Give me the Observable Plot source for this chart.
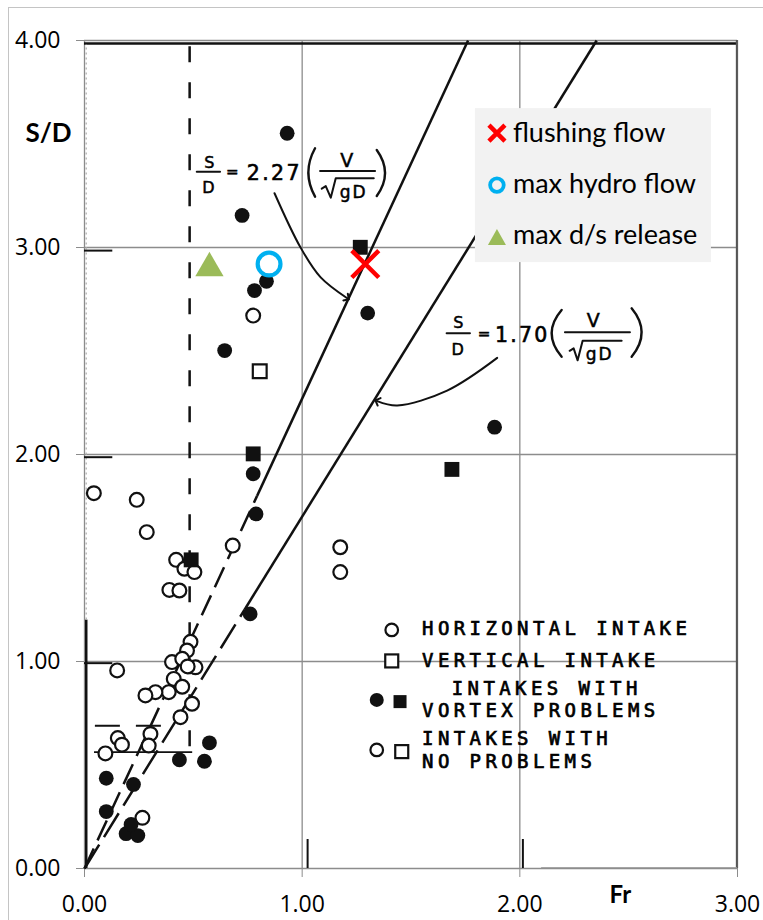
<!DOCTYPE html>
<html><head><meta charset="utf-8">
<script src="https://cdn.jsdelivr.net/npm/d3@7"></script>
<script src="https://cdn.jsdelivr.net/npm/@observablehq/plot@0.6"></script>
<style>
body{margin:0;background:#fff;}
#wrap{position:relative;width:763px;height:920px;overflow:hidden;}
#frame{position:absolute;left:8px;top:7px;width:770px;height:930px;border-left:1px solid #c4c4c4;border-top:1px solid #c4c4c4;}
#chart{position:absolute;left:0;top:0;}
</style></head><body><div id="wrap"><div id="frame"></div><div id="chart"></div></div>
<script>
// ---- axes ----
const xTicks = [0, 1, 2, 3];
const yTicks = [0, 1, 2, 3, 4];

// ---- scanned data points [Fr, S/D] ----
const horizontalNoProblems = [
  [0.043,1.813],[0.240,1.781],[0.286,1.625],[0.681,1.560],[0.421,1.491],[0.459,1.448],
  [0.505,1.432],[0.390,1.346],[0.436,1.343],[1.175,1.552],[1.175,1.432],[0.775,2.671],
  [0.487,1.095],[0.471,1.053],[0.402,0.997],[0.449,1.013],[0.510,0.972],[0.474,0.976],
  [0.150,0.957],[0.410,0.916],[0.449,0.878],[0.387,0.852],[0.326,0.852],[0.280,0.836],
  [0.494,0.796],[0.441,0.731],[0.303,0.650],[0.295,0.594],[0.153,0.630],[0.172,0.598],
  [0.096,0.556],[0.266,0.245]
];
const horizontalVortex = [
  [0.931,3.552],[0.724,3.155],[0.781,2.792],[0.836,2.837],[1.301,2.683],[0.644,2.502],
  [0.775,1.907],[1.884,2.132],[0.788,1.713],[0.761,1.230],[0.574,0.607],[0.551,0.518],
  [0.436,0.525],[0.100,0.436],[0.225,0.406],[0.100,0.275],[0.191,0.168],[0.245,0.159],
  [0.214,0.213]
];
const verticalVortex = [[1.267,3.001],[0.775,2.003],[1.688,1.928],[0.490,1.491]];
const verticalNoProblems = [[0.805,2.402]];

// ---- highlighted flows ----
const flushingFlow = [[1.29,2.92]];
const maxHydroFlow = [[0.848,2.92]];
const maxRelease = [[0.574,2.90]];

// ---- criteria lines S/D = k * Fr ----
const criteria = [
  {k: 2.27, dashedBelow: 1.80, dash: "22,9"},
  {k: 1.70, dashedBelow: 1.25, dash: "28,9"}
];
const yTop = 4;

// ---- annotation arrow paths [Fr, S/D] ----
const arrow227 = [[0.873,3.262],[0.992,3.001],[1.084,2.857],[1.207,2.755]];
const arrow170 = [[1.896,2.467],[1.666,2.309],[1.437,2.237],[1.345,2.258]];

// ---- annotation anchors [Fr, S/D] ----
const formula227Anchor = [0.518, 3.364];
const formula170Anchor = [1.666, 2.583];
const scanLegendAnchor = [1.553, 1.126];
const colorLegendAnchor = [1.796, 3.671];

const legendItems = ["flushing flow", "max hydro flow", "max d/s release"];
const scanLegendText = ["HORIZONTAL INTAKE", "VERTICAL INTAKE", "INTAKES WITH", "VORTEX PROBLEMS", "INTAKES WITH", "NO PROBLEMS"];

const segs = criteria.map(c => ({
  dashed: {x1: 0, y1: 0, x2: c.dashedBelow / c.k, y2: c.dashedBelow},
  solid: {x1: c.dashedBelow / c.k, y1: c.dashedBelow, x2: yTop / c.k, y2: yTop},
  dash: c.dash
}));

const px = d => d[0], py = d => d[1];
const ink = "#111";
const tickFont = "'Open Sans', sans-serif";

const plot = Plot.plot({
  width: 763, height: 920,
  marginLeft: 84, marginRight: 26, marginTop: 40, marginBottom: 52,
  x: {domain: [0, 3]},
  y: {domain: [0, 4]},
  style: {fontFamily: tickFont, background: "transparent", overflow: "visible"},
  marks: [
    Plot.gridX(xTicks, {stroke: "#8c8c8c", strokeOpacity: 1, strokeWidth: 1.3}),
    Plot.gridY(yTicks, {stroke: "#8c8c8c", strokeOpacity: 1, strokeWidth: 1.3}),
    Plot.axisX({ticks: xTicks, tickFormat: () => "", tickSize: 9, stroke: "#8c8c8c", label: null}),
    Plot.axisY({ticks: yTicks, tickFormat: () => "", tickSize: 8, stroke: "#8c8c8c", label: null}),
    Plot.text(xTicks, {x: d => d, y: 0, dy: 36, text: d => d.toFixed(2), textAnchor: "middle", lineAnchor: "middle", fontSize: 23, fontFamily: tickFont, fill: "#000"}),
    Plot.text(yTicks, {x: 0, y: d => d, dx: -24, text: d => d.toFixed(2), textAnchor: "end", lineAnchor: "middle", fontSize: 23, fontFamily: tickFont, fill: "#000"}),
    // scanned frame remnants
    Plot.ruleY([3.985], {x1: 0, x2: 3, stroke: ink, strokeWidth: 2.5}),
    Plot.ruleX([2.997], {y1: 0, y2: 4, stroke: "#555", strokeWidth: 2}),
    Plot.ruleX([0.008], {y1: 0, y2: 1.2, stroke: ink, strokeWidth: 2.5}),
    Plot.ruleX([0.008], {y1: 1.2, y2: 3.98, stroke: "#bbb", strokeWidth: 1.5, strokeDasharray: "2,3"}),
    Plot.ruleY([2.985, 1.987, 0.992], {x1: 0, x2: 0.13, stroke: ink, strokeWidth: 2}),
    Plot.ruleX([1.025, 2.014], {y1: 0, y2: 0.14, stroke: ink, strokeWidth: 2}),
    Plot.ruleY([0.004], {x1: 2.1, x2: 3, stroke: "#999", strokeWidth: 1}),
    Plot.ruleX([0.483], {y1: 3.97, y2: 0.56, stroke: ink, strokeWidth: 2.5, strokeDasharray: "16,20"}),
    Plot.ruleY([0.69], {x1: 0.05, x2: 0.42, stroke: ink, strokeWidth: 2, strokeDasharray: "25,16"}),
    Plot.ruleY([0.562], {x1: 0.046, x2: 0.497, stroke: ink, strokeWidth: 1.6}),
    // criteria lines
    ...segs.flatMap(s => [
      Plot.link([s.dashed], {x1: "x1", y1: "y1", x2: "x2", y2: "y2", stroke: ink, strokeWidth: 2.5, strokeDasharray: s.dash}),
      Plot.link([s.solid], {x1: "x1", y1: "y1", x2: "x2", y2: "y2", stroke: ink, strokeWidth: 2.5})
    ]),
    // annotation arrows
    Plot.line(arrow227, {x: px, y: py, curve: "catmull-rom", stroke: ink, strokeWidth: 2, markerEnd: "arrow"}),
    Plot.line(arrow170, {x: px, y: py, curve: "catmull-rom", stroke: ink, strokeWidth: 2, markerEnd: "arrow"}),
    // data points
    Plot.dot(horizontalNoProblems, {x: px, y: py, r: 6.9, stroke: ink, strokeWidth: 2.2, fill: "white"}),
    Plot.dot(verticalNoProblems, {x: px, y: py, symbol: "square", r: 7.8, stroke: ink, strokeWidth: 2.2, fill: "white"}),
    Plot.dot(horizontalVortex, {x: px, y: py, r: 7.4, fill: ink}),
    Plot.dot(verticalVortex, {x: px, y: py, symbol: "square", r: 8.4, fill: ink}),
    // axis titles
    Plot.text(["S/D"], {x: 0, y: 3.51, dx: -36, text: d => d, textAnchor: "middle", lineAnchor: "bottom", fontSize: 26, fontWeight: "bold", fontFamily: "Lato, sans-serif", fill: "#000"}),
    Plot.text(["Fr"], {x: 2.462, y: 0, dy: 34, text: d => d, textAnchor: "middle", lineAnchor: "bottom", fontSize: 24, fontWeight: "bold", fontFamily: "Lato, sans-serif", fill: "#000"}),
    // highlighted flows
    Plot.dot(maxRelease, {x: px, y: py, symbol: "triangle", r: 10.5, fill: "#9bbb59"}),
    Plot.dot(maxHydroFlow, {x: px, y: py, r: 11.4, stroke: "#00b0f0", strokeWidth: 4.2, fill: "none"}),
    Plot.dot(flushingFlow, {x: px, y: py, symbol: "times", r: 12.3, stroke: "#ff0000", strokeWidth: 4.5})
  ]
});
document.getElementById("chart").append(plot);

const sx = plot.scale("x"), sy = plot.scale("y");
const svg = d3.select(plot);
function anchored(a) {
  return svg.append("g").attr("transform", `translate(${sx.apply(a[0])},${sy.apply(a[1])})`);
}
function txt(g, s, x, y, size, opts = {}) {
  const t = g.append("text").attr("x", x).attr("y", y).attr("font-size", size)
    .attr("font-family", opts.family || "DejaVu Sans").attr("text-anchor", opts.anchor || "start")
    .attr("fill", opts.fill || "#000").text(s);
  if (opts.ls) t.style("letter-spacing", opts.ls + "px");
  if (opts.sw) t.attr("stroke", "#000").attr("stroke-width", opts.sw);
  if (opts.weight) t.attr("font-weight", opts.weight);
  return t;
}
function path(g, d, w = 2) {
  return g.append("path").attr("d", d).attr("fill", "none").attr("stroke", ink).attr("stroke-width", w).attr("stroke-linecap", "round").attr("stroke-linejoin", "round");
}

// formula S/D = 2.27 (V / sqrt(gD))
{
  const g = anchored(formula227Anchor);
  txt(g, "S", 12.6, -3.4, 16, {anchor: "middle", sw: 0.5});
  path(g, "M0,0H23.3", 2);
  txt(g, "D", 11.6, 21.6, 16, {anchor: "middle", sw: 0.5});
  txt(g, "=", 35.6, 5.5, 15, {anchor: "middle", sw: 0.6});
  txt(g, "2.27", 50, 8.3, 20.5, {ls: 2.4, sw: 0.6});
  path(g, "M118.3,-23.4Q104.9,0.8 118.3,25", 2.4);
  txt(g, "V", 150, -5, 19, {anchor: "middle", sw: 0.5});
  path(g, "M123.3,-0.7H178.3", 2);
  path(g, "M125,17L129,14.5L134,26L139,6.6H177", 2);
  txt(g, "gD", 143, 26.6, 17, {ls: 2, sw: 0.5});
  path(g, "M180,-21.7Q196.6,1.3 180,24.3", 2.4);
}
// formula S/D = 1.70 (V / sqrt(gD))
{
  const g = anchored(formula170Anchor);
  txt(g, "S", 11.6, -5, 16, {anchor: "middle", sw: 0.5});
  path(g, "M0,0H23.3", 2);
  txt(g, "D", 11, 21.7, 16, {anchor: "middle", sw: 0.5});
  txt(g, "=", 37.3, 5.5, 15, {anchor: "middle", sw: 0.6});
  txt(g, "1.70", 48.3, 8.4, 20.5, {ls: 2.2, sw: 0.6});
  path(g, "M115,-23.3Q95,0 115,23.4", 2.4);
  txt(g, "V", 146.6, -6.6, 19, {anchor: "middle", sw: 0.5});
  path(g, "M118.3,-1H183.3", 2);
  path(g, "M123,17.5L127,15L131,27L136,7.4H175", 2);
  txt(g, "gD", 139, 26.7, 17, {ls: 2, sw: 0.5});
  path(g, "M185,-25Q205,-0.8 185,23.4", 2.4);
}
// scanned legend
{
  const g = anchored(scanLegendAnchor);
  const mono = {family: "DejaVu Sans Mono", ls: 4.4, sw: 0.7};
  const circ = (x, y, filled) => g.append("circle").attr("cx", x).attr("cy", y).attr("r", filled ? 7 : 6.3)
    .attr("fill", filled ? ink : "white").attr("stroke", filled ? "none" : ink).attr("stroke-width", 2.2);
  const sq = (x, y, filled) => g.append("rect").attr("x", x - 6.5).attr("y", y - 6.5).attr("width", 13).attr("height", 13)
    .attr("fill", filled ? ink : "white").attr("stroke", filled ? "none" : ink).attr("stroke-width", 2.2);
  circ(-30.3, -5, false);
  txt(g, scanLegendText[0], 0, 0, 19, mono);
  sq(-30.3, 26, false);
  txt(g, scanLegendText[1], 0, 32, 19, mono);
  circ(-45.3, 65, true); sq(-22, 66.7, true);
  txt(g, scanLegendText[2], 29.7, 60, 19, mono);
  txt(g, scanLegendText[3], 0, 81.7, 19, mono);
  circ(-45.3, 115, false); sq(-20.3, 116.7, false);
  txt(g, scanLegendText[4], 0, 110, 19, mono);
  txt(g, scanLegendText[5], 0, 133, 19, mono);
}
// colour legend box
{
  const g = anchored(colorLegendAnchor);
  g.append("rect").attr("width", 236).attr("height", 154).attr("fill", "#f2f2f2");
  path(g, "M14,17L30,33M30,17L14,33", 4.5).attr("stroke", "#ff0000").attr("stroke-linecap", "butt");
  g.append("circle").attr("cx", 22).attr("cy", 77).attr("r", 6.8).attr("fill", "none").attr("stroke", "#00b0f0").attr("stroke-width", 3.8);
  g.append("path").attr("d", "M22,121L31,137L13,137Z").attr("fill", "#9bbb59");
  const lf = {family: "Lato, sans-serif"};
  txt(g, legendItems[0], 38, 33.7, 27, lf);
  txt(g, legendItems[1], 38, 85.3, 27, lf);
  txt(g, legendItems[2], 38, 136, 27, lf);
}
</script></body></html>
